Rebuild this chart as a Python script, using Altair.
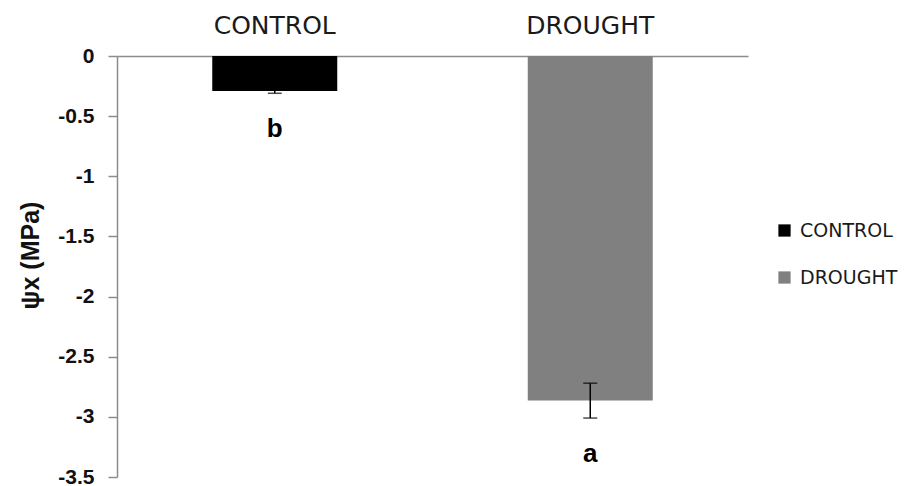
import altair as alt
import pandas as pd

groups = ["CONTROL", "DROUGHT"]
means = [-0.29, -2.865]
errors = [0.02, 0.145]
letters = ["b", "a"]
colors = ["#000000", "#808080"]
y_ticks = [0, -0.5, -1, -1.5, -2, -2.5, -3, -3.5]

df = pd.DataFrame({"group": groups, "mean": means, "err": errors, "letter": letters})
df["lo"] = df["mean"] - df["err"]
df["hi"] = df["mean"] + df["err"]
df["ly"] = df["lo"] - 0.3

x_enc = alt.X("group:N", sort=groups,
              scale=alt.Scale(paddingInner=0, paddingOuter=0),
              axis=alt.Axis(orient="top", title=None, ticks=False, labelAngle=0,
                            labelFont="DejaVu Sans", labelFontSize=25, labelColor="#1a1a1a",
                            labelPadding=18, domainColor="#8c8c8c", domainWidth=1.5))
y_scale = alt.Scale(domain=[-3.5, 0], nice=False, zero=False)

bars = alt.Chart(df).mark_bar(size=125).encode(
    x=x_enc,
    y=alt.Y("mean:Q", scale=y_scale,
            axis=alt.Axis(values=y_ticks, grid=False, title="ψx (MPa)",
                          labelExpr="'' + datum.value",
                          labelFont="Liberation Sans", labelFontSize=21, labelFontWeight="bold",
                          labelColor="#111111", labelPadding=14, tickSize=9,
                          tickColor="#8c8c8c", tickWidth=1.5,
                          domainColor="#8c8c8c", domainWidth=1.5,
                          titleFont="Liberation Sans", titleFontSize=25, titleFontWeight="bold",
                          titleColor="#111111", titleAngle=270, titleX=-87, titleY=199,
                          titleAlign="center", titleBaseline="middle")),
    y2=alt.datum(0),
    color=alt.Color("group:N", scale=alt.Scale(domain=groups, range=colors),
                    legend=alt.Legend(title=None, orient="none", legendX=658, legendY=165,
                                      symbolType="square", symbolSize=150, symbolStrokeWidth=0,
                                      labelFont="DejaVu Sans", labelFontSize=19,
                                      labelColor="#1a1a1a", rowPadding=27, labelOffset=6)),
)

rule = alt.Chart(df).mark_rule(color="black", strokeWidth=1.5).encode(
    x=alt.X("group:N", sort=groups), y=alt.Y("lo:Q", scale=y_scale), y2="hi:Q")
cap_lo = alt.Chart(df).mark_tick(color="black", size=14, thickness=1.5, orient="horizontal").encode(
    x=alt.X("group:N", sort=groups), y=alt.Y("lo:Q", scale=y_scale))
cap_hi = alt.Chart(df).mark_tick(color="black", size=14, thickness=1.5, orient="horizontal").encode(
    x=alt.X("group:N", sort=groups), y=alt.Y("hi:Q", scale=y_scale))
txt = alt.Chart(df).mark_text(font="Liberation Sans", fontSize=26, fontWeight="bold",
                              color="black", baseline="middle").encode(
    x=alt.X("group:N", sort=groups), y=alt.Y("ly:Q", scale=y_scale), text="letter:N")

chart = alt.layer(bars, rule, cap_lo, cap_hi, txt).properties(
    width=631, height=421,
    background="white",
    autosize=alt.AutoSizeParams(type="none"),
    padding={"left": 109, "top": 48, "right": 150, "bottom": 9},
).configure_view(stroke=None)

chart.save("out.html", embed_options={"renderer": "svg", "actions": False})
